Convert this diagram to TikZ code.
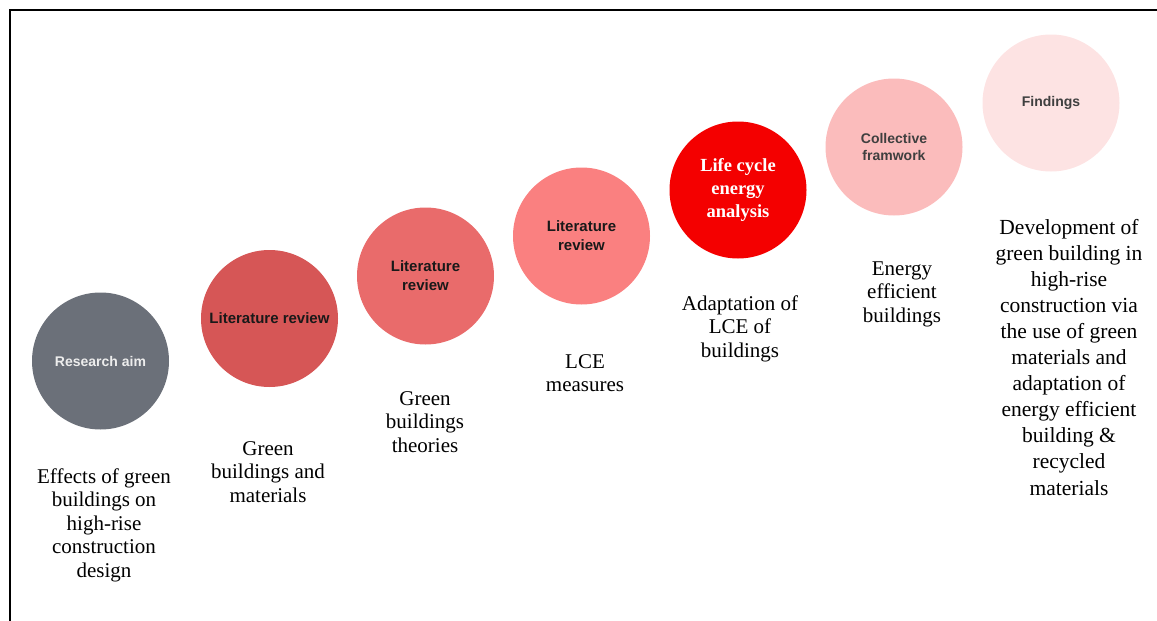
\documentclass[tikz,border=0pt]{standalone}
\usepackage{fontspec}
\setmainfont{Liberation Serif}
\newfontfamily\stagefont{Liberation Sans}
\usepackage{tikz}

\definecolor{aimgray}{HTML}{6B7079}
\definecolor{litone}{HTML}{D65656}
\definecolor{littwo}{HTML}{E96B6B}
\definecolor{litthree}{HTML}{FA8080}
\definecolor{lcared}{HTML}{F40000}
\definecolor{framepink}{HTML}{FBBCBC}
\definecolor{findpink}{HTML}{FDE3E3}
\definecolor{darktext}{HTML}{3F3F3F}

\begin{document}
\begin{tikzpicture}
            [x=1pt, y=-1pt,
             stage/.style={circle, minimum size=137pt, inner sep=0pt, align=center,
                           font=\stagefont\bfseries\fontsize{15}{19}\selectfont},
             note/.style={anchor=base, align=center,
                          font=\fontsize{21}{23.5}\selectfont}]
            \useasboundingbox (0,0) rectangle (1157,621);
            \draw[line width=2pt] (10,621) -- (10,10) -- (1157,10);

            \node[stage, fill=aimgray, text=white!93!black,
                  font=\stagefont\bfseries\fontsize{14}{18}\selectfont] (aim) at (100.5,361) {Research aim};
            \node[stage, fill=litone, text=black!90] (lit1) at (269.5,318.5) {Literature review};
            \node[stage, fill=littwo, text=black!90] (lit2) at (425.5,276) {Literature\\review};
            \node[stage, fill=litthree, text=black!90] (lit3) at (581.5,236) {Literature\\review};
            \node[stage, fill=lcared, text=white,
                  font=\bfseries\fontsize{18.5}{23}\selectfont] (lca) at (738,190) {Life cycle\\energy\\analysis};
            \node[stage, fill=framepink, text=darktext,
                  font=\stagefont\bfseries\fontsize{14}{17}\selectfont] (frm) at (894,147) {Collective\\framwork};
            \node[stage, fill=findpink, text=darktext,
                  font=\stagefont\bfseries\fontsize{14}{17}\selectfont] (find) at (1051,103) {Findings};

            % notes hang on the baseline of their last line
            \node[note] (aimnote) at (104,577) {Effects of green\\buildings on\\high-rise\\construction\\design};
            \node[note] (lit1note) at (268,502) {Green\\buildings and\\materials};
            \node[note] (lit2note) at (425,452) {Green\\buildings\\theories};
            \node[note] (lit3note) at (585,391.5) {LCE\\measures};
            \node[note] (lcanote) at (740,357) {Adaptation of\\LCE of\\buildings};
            \node[note] (frmnote) at (902,322) {Energy\\efficient\\buildings};
            \node[note, font=\fontsize{21.5}{26.1}\selectfont] (findnote) at (1069,495)
                {Development of\\green building in\\high-rise\\construction via\\the use of green\\materials and\\adaptation of\\energy efficient\\building \&\\recycled\\materials};

            % \draw[help lines, step=50] (0,0) grid (1157,621);
        \end{tikzpicture}
\end{document}
